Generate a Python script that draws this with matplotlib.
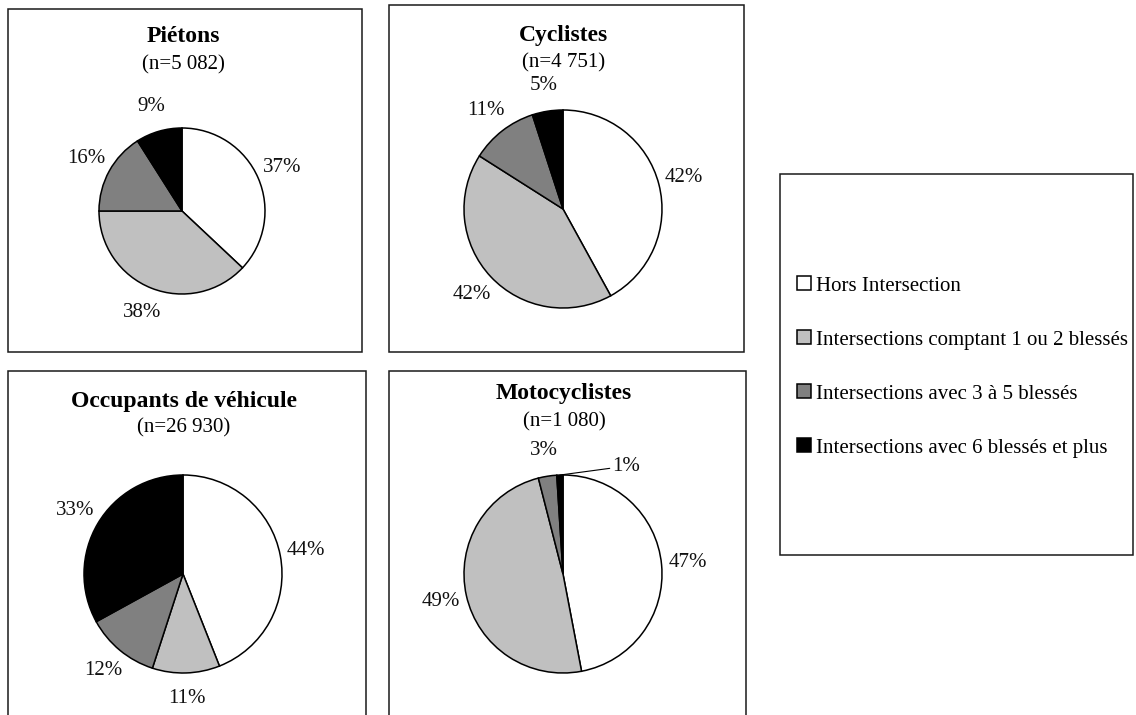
import matplotlib
matplotlib.use("Agg")
import matplotlib.pyplot as plt
import numpy as np
from matplotlib.patches import Rectangle, Patch

plt.rcParams['font.family'] = ['Liberation Serif', 'DejaVu Serif']

W, H = 1136, 715

categories = ['Hors Intersection',
              'Intersections comptant 1 ou 2 blessés',
              'Intersections avec 3 à 5 blessés',
              'Intersections avec 6 blessés et plus']
colors = ['#FFFFFF', '#C0C0C0', '#808080', '#000000']

titles = ['Piétons', 'Cyclistes', 'Occupants de véhicule', 'Motocyclistes']
counts = ['(n=5 082)', '(n=4 751)', '(n=26 930)', '(n=1 080)']
pietons = [37, 38, 16, 9]
cyclistes = [42, 42, 11, 5]
occupants = [44, 11, 12, 33]
motocyclistes = [47, 49, 3, 1]
series = [pietons, cyclistes, occupants, motocyclistes]

# layout in pixels (top-left origin): frame box, pie centre, radius, title y, subtitle y
frames = [(8, 9, 354, 343), (389, 5, 355, 347), (8, 371, 358, 350), (389, 371, 357, 350)]
centres = [(182, 211), (563, 209), (183, 574), (563, 574)]
radii = [83, 99, 99, 99]
title_y = [37, 35, 401, 393]
sub_y = [65, 63, 428, 422]

fig = plt.figure(figsize=(W / 100, H / 100), dpi=100)


def fx(x):
    return x / W


def fy(y):
    return 1 - y / H


for i in range(4):
    x0, y0, w, h = frames[i]
    fig.add_artist(Rectangle((fx(x0), fy(y0 + h)), w / W, h / H, transform=fig.transFigure,
                             fill=False, ec='#1a1a1a', lw=1.1))
    cx, cy = centres[i]
    r = radii[i]
    half = 150
    ax = fig.add_axes([fx(cx - half), fy(cy + half), 2 * half / W, 2 * half / H])
    ax.axis('off')
    lim = half / r
    vals = series[i]
    pctd = 1 + 26 / r
    wedges, texts, autotexts = ax.pie(vals, colors=colors, startangle=90, counterclock=False,
                                      autopct='%.0f%%', pctdistance=pctd,
                                      wedgeprops=dict(edgecolor='black', linewidth=1.1),
                                      textprops=dict(fontsize=15, color='#111111'))
    ax.set_xlim(-lim, lim)
    ax.set_ylim(-lim, lim)
    ax.set_aspect('equal')
    if i == 3:
        # the 1% slice gets a leader line, as in the original
        wdg = wedges[3]
        mid = np.deg2rad((wdg.theta1 + wdg.theta2) / 2)
        autotexts[3].set_visible(False)
        ax.annotate('1%', xy=(np.cos(mid), np.sin(mid)), xytext=(0.5, 1.09),
                    ha='left', va='center', fontsize=15, color='#111111',
                    arrowprops=dict(arrowstyle='-', color='black', lw=0.8,
                                    shrinkA=0, shrinkB=0))
    fig.text(fx(cx + 1), fy(title_y[i]), titles[i], ha='center', va='center',
             fontsize=17, fontweight='bold')
    fig.text(fx(cx + 1), fy(sub_y[i]), counts[i], ha='center', va='center', fontsize=15)

# legend box
fig.add_artist(Rectangle((fx(780), fy(555)), (1133 - 780) / W, (555 - 174) / H,
                         transform=fig.transFigure, fill=False, ec='#1a1a1a', lw=1.1))
handles = [Patch(facecolor=c, edgecolor='black', linewidth=1.1) for c in colors]
fig.legend(handles, categories, loc='center left', bbox_to_anchor=(fx(797), fy(367)),
           frameon=False, fontsize=15, handlelength=0.65, handleheight=0.65,
           handletextpad=0.25, labelspacing=1.67, borderpad=0, borderaxespad=0)

fig.savefig('out.png', dpi=100)
